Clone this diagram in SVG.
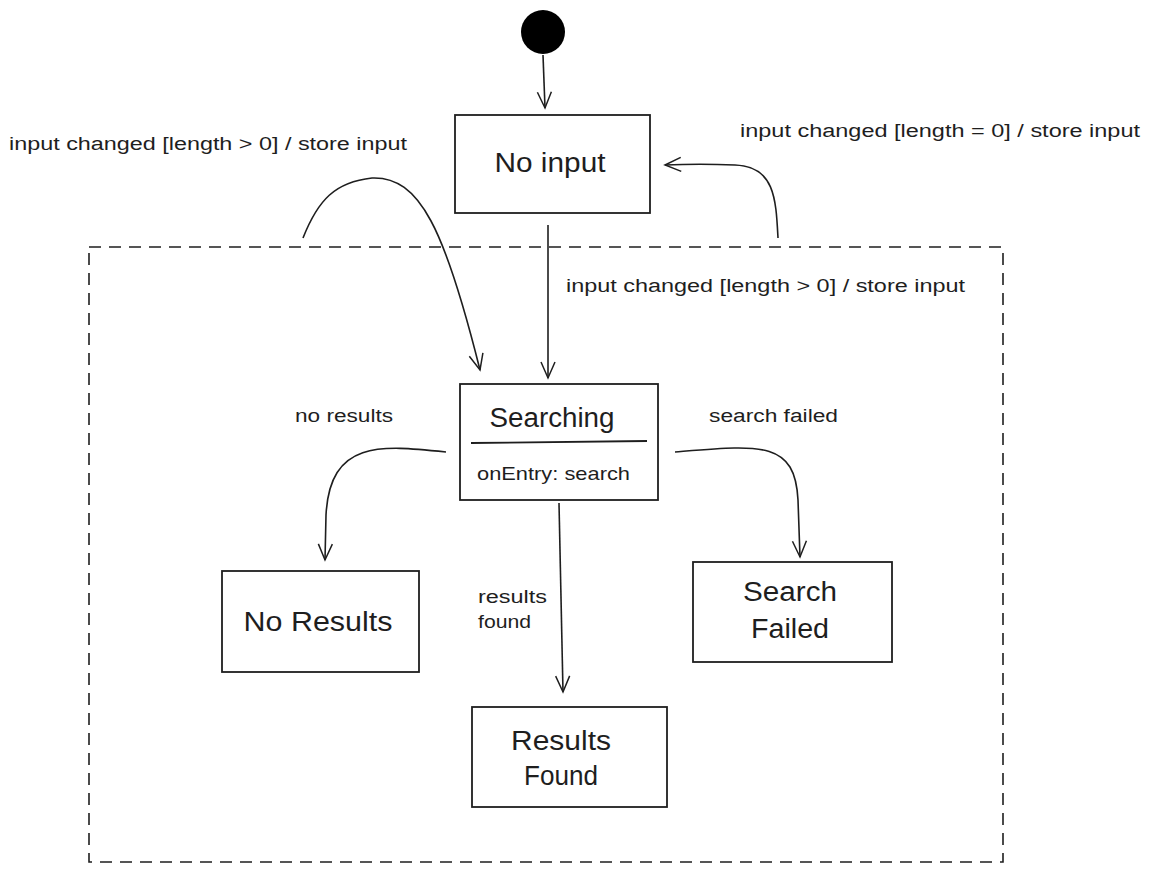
<svg xmlns="http://www.w3.org/2000/svg" width="1152" height="872" viewBox="0 0 1152 872">
<defs>
<marker id="arr" viewBox="0 0 20 20" refX="18" refY="10" markerWidth="20" markerHeight="20" markerUnits="userSpaceOnUse" orient="auto">
<path d="M2,3 L18,10 L2,17" fill="none" stroke="#1e1e1e" stroke-width="1.5"/>
</marker>
<style>
.box{fill:#fff;stroke:#1e1e1e;stroke-width:1.8}
.edge{fill:none;stroke:#1e1e1e;stroke-width:1.6;marker-end:url(#arr)}
.t{font-family:"Liberation Sans",Arial,sans-serif;fill:#1e1e1e}
.lbl{font-size:18px}
.big{font-size:27px;text-anchor:middle}
</style>
</defs>
<rect width="1152" height="872" fill="#fff"/>
<g id="container">
<rect x="89" y="247" width="914" height="615" fill="none" stroke="#1e1e1e" stroke-width="1.6" stroke-dasharray="12 8"/>
</g>
<g id="connectors">
<path class="edge" d="M543,55 L545,108"/>
<path class="edge" d="M548,225 L548,378"/>
<path class="edge" d="M303,238 C318,200 335,182 372,178 C420,176 445,230 480,370"/>
<path class="edge" d="M778,238 C776,200 775,166 735,165 C710,164 690,164 665,165"/>
<path class="edge" d="M446,452 C380,445 330,440 326,515 L325,560"/>
<path class="edge" d="M559,503 L563,692"/>
<path class="edge" d="M675,452 C760,445 795,440 798,500 L800,557"/>
</g>
<g id="labels">
<text class="t lbl" x="9" y="150" textLength="398" lengthAdjust="spacingAndGlyphs">input changed [length &gt; 0] / store input</text>
<text class="t lbl" x="740" y="137" textLength="400" lengthAdjust="spacingAndGlyphs">input changed [length = 0] / store input</text>
<text class="t lbl" x="566" y="292" textLength="399" lengthAdjust="spacingAndGlyphs">input changed [length &gt; 0] / store input</text>
<text class="t lbl" x="295" y="422" textLength="98" lengthAdjust="spacingAndGlyphs">no results</text>
<text class="t lbl" x="709" y="422" textLength="129" lengthAdjust="spacingAndGlyphs">search failed</text>
<text class="t lbl" x="478" y="603" textLength="69" lengthAdjust="spacingAndGlyphs">results</text>
<text class="t lbl" x="478" y="628" textLength="53" lengthAdjust="spacingAndGlyphs">found</text>
</g>
<g id="start">
<circle cx="543" cy="32" r="22" fill="#000"/>
</g>
<g id="no-input">
<rect class="box" x="455" y="115" width="195" height="98"/>
<text class="t big" x="550" y="172" textLength="111" lengthAdjust="spacingAndGlyphs">No input</text>
</g>
<g id="searching">
<rect class="box" x="460" y="384" width="198" height="116"/>
<text class="t big" x="552" y="427" textLength="125" lengthAdjust="spacingAndGlyphs">Searching</text>
<line x1="471" y1="443" x2="647" y2="441" stroke="#1e1e1e" stroke-width="1.8"/>
<text class="t" x="477" y="480" font-size="19" textLength="153" lengthAdjust="spacingAndGlyphs">onEntry: search</text>
</g>
<g id="no-results">
<rect class="box" x="222" y="571" width="197" height="101"/>
<text class="t big" x="318" y="631" textLength="149" lengthAdjust="spacingAndGlyphs">No Results</text>
</g>
<g id="results-found">
<rect class="box" x="472" y="707" width="195" height="100"/>
<text class="t big" x="561" y="750" textLength="100" lengthAdjust="spacingAndGlyphs">Results</text>
<text class="t big" x="561" y="785" textLength="74" lengthAdjust="spacingAndGlyphs">Found</text>
</g>
<g id="search-failed">
<rect class="box" x="693" y="562" width="199" height="100"/>
<text class="t big" x="790" y="601" textLength="94" lengthAdjust="spacingAndGlyphs">Search</text>
<text class="t big" x="790" y="638" textLength="78" lengthAdjust="spacingAndGlyphs">Failed</text>
</g>
</svg>
